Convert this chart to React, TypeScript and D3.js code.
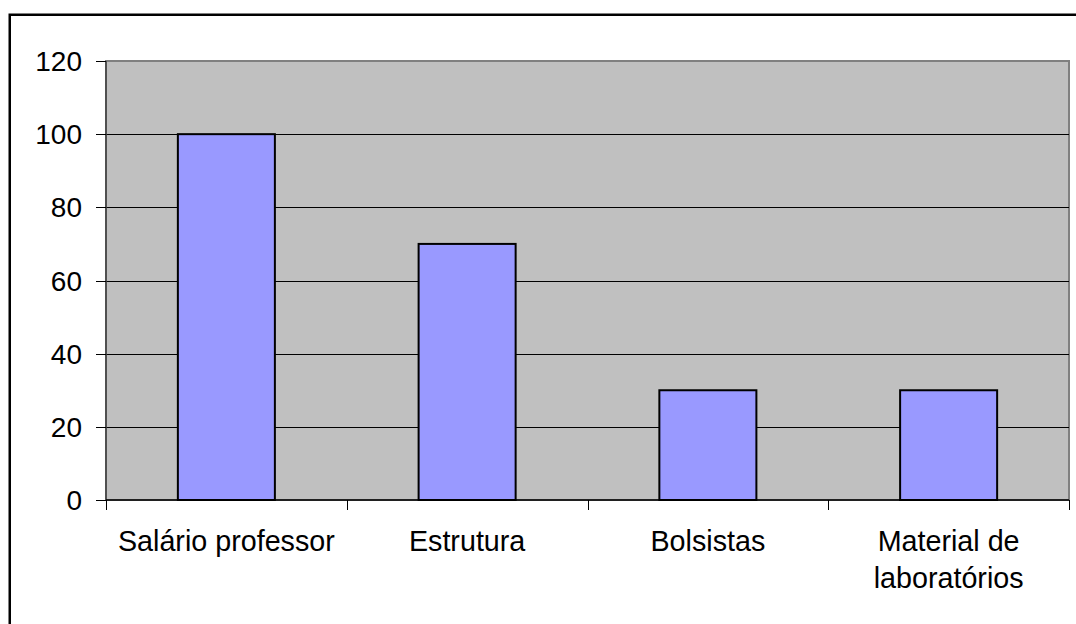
import React from 'react';
import * as d3 from 'd3';

const categories: string[][] = [
  ['Salário professor'],
  ['Estrutura'],
  ['Bolsistas'],
  ['Material de', 'laboratórios'],
];
const values: number[] = [100, 70, 30, 30];
const yTicks: number[] = [0, 20, 40, 60, 80, 100, 120];

const App: React.FC = () => {
  const width = 1076;
  const height = 624;
  const plot = { left: 106, top: 61, right: 1069, bottom: 500 };

  const keys = categories.map(c => c.join(' '));
  const xScale = d3
    .scaleBand<string>()
    .domain(keys)
    .range([plot.left, plot.right])
    .padding(0);

  const yScale = d3
    .scaleLinear()
    .domain([0, 120])
    .range([plot.bottom, plot.top]);

  const barWidth = xScale.bandwidth() * 0.403;
  const font = 'Liberation Sans, Arial, sans-serif';

  // boundaries between categories, for the x axis ticks
  const xBoundaries = keys.map(k => xScale(k) || 0).concat([plot.right]);

  return (
    <svg
      width={width}
      height={height}
      style={{ position: 'absolute', left: 0, top: 0, background: '#fff' }}
    >
      {/* outer frame */}
      <rect x={9.75} y={14.75} width={1200} height={800} fill="none" stroke="#000" strokeWidth={2.5} />

      {/* plot area */}
      <rect
        x={plot.left}
        y={plot.top}
        width={plot.right - plot.left}
        height={plot.bottom - plot.top}
        fill="#c0c0c0"
        stroke="#808080"
        strokeWidth={2}
      />

      {/* gridlines */}
      {yTicks.filter(t => t > 0 && t < 120).map(t => (
        <line
          key={`g${t}`}
          x1={plot.left}
          x2={plot.right}
          y1={Math.round(yScale(t)) + 0.5}
          y2={Math.round(yScale(t)) + 0.5}
          stroke="#000"
          strokeWidth={1}
        />
      ))}

      {/* bars */}
      {keys.map((k, i) => {
        const cx = (xScale(k) || 0) + xScale.bandwidth() / 2;
        return (
          <rect
            key={k}
            x={cx - barWidth / 2}
            y={yScale(values[i])}
            width={barWidth}
            height={plot.bottom - yScale(values[i])}
            fill="#9999ff"
            stroke="#000"
            strokeWidth={2}
          />
        );
      })}

      {/* y axis */}
      <line x1={plot.left} x2={plot.left} y1={plot.top} y2={plot.bottom} stroke="#404040" strokeWidth={1.5} />
      {yTicks.map(t => (
        <g key={`y${t}`}>
          <line
            x1={plot.left - 10}
            x2={plot.left}
            y1={Math.round(yScale(t)) + 0.5}
            y2={Math.round(yScale(t)) + 0.5}
            stroke="#000"
            strokeWidth={1}
          />
          <text
            x={82}
            y={yScale(t)}
            dy="0.36em"
            textAnchor="end"
            fontFamily={font}
            fontSize={28}
            fill="#000"
          >
            {t}
          </text>
        </g>
      ))}

      {/* x axis */}
      <line x1={plot.left} x2={plot.right} y1={plot.bottom} y2={plot.bottom} stroke="#000" strokeWidth={1.5} />
      {xBoundaries.map((x, i) => (
        <line
          key={`xt${i}`}
          x1={Math.round(x) + 0.5}
          x2={Math.round(x) + 0.5}
          y1={plot.bottom}
          y2={plot.bottom + 10}
          stroke="#000"
          strokeWidth={1}
        />
      ))}
      {categories.map((lines, i) => {
        const cx = (xScale(keys[i]) || 0) + xScale.bandwidth() / 2;
        return (
          <text
            key={`xl${i}`}
            x={cx}
            y={551}
            textAnchor="middle"
            fontFamily={font}
            fontSize={28.7}
            fill="#000"
          >
            {lines.map((l, j) => (
              <tspan key={j} x={cx} dy={j === 0 ? 0 : 37}>
                {l}
              </tspan>
            ))}
          </text>
        );
      })}
    </svg>
  );
};

export default App;
